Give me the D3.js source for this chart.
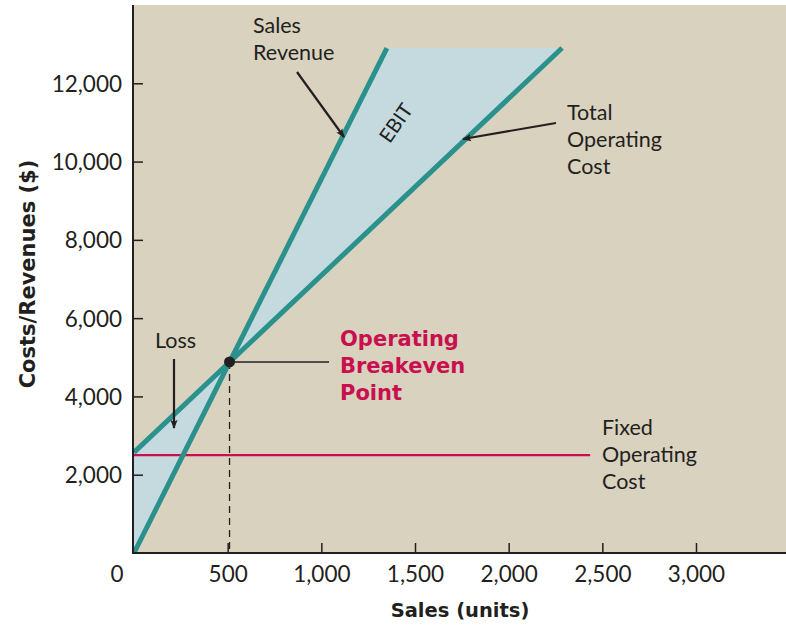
<!DOCTYPE html>
<html>
<head>
<meta charset="utf-8">
<script src="https://cdn.jsdelivr.net/npm/d3@7"></script>
<style>
  html, body { margin: 0; padding: 0; background: #ffffff; }
  svg { display: block; }
  text { font-family: Lato, "Noto Sans", sans-serif; fill: #231f20; }
  .heavy { font-family: "DejaVu Sans", Lato, sans-serif; font-weight: 700; }
</style>
</head>
<body>
<svg id="chart" width="786" height="626"></svg>
<script>
// ---- data ----
const xTicks = [500, 1000, 1500, 2000, 2500, 3000];
const yTicks = [2000, 4000, 6000, 8000, 10000, 12000];
const salesRevenue = [[0, 0], [1350, 12900]];
const totalOperatingCost = [[0, 2570], [2285, 12900]];
const fixedOperatingCost = [[0, 2500], [2435, 2500]];
const breakeven = [510, 4880];
const ebitRegion = [breakeven, [1350, 12900], [2285, 12900]];
const lossRegion = [[0, 2570], [0, 0], breakeven];

(function () {
const svg = d3.select("#chart");
const pL = 133, pR = 786, pT = 5, pB = 553;

const x = d3.scaleLinear().domain([0, 3000]).range([134, 696]);
const y = d3.scaleLinear().domain([0, 14000]).range([pB, pT]);
const fmt = d3.format(",");

const teal = "#2b918c";
const fillBlue = "#c4dadf";
const crimson = "#c8104e";
const ink = "#231f20";

// background
svg.append("rect").attr("x", pL).attr("y", pT)
  .attr("width", pR - pL).attr("height", pB - pT)
  .attr("fill", "#d8d2bf");

const line = d3.line().x(d => x(d[0])).y(d => y(d[1]));
const area = d3.line().x(d => x(d[0])).y(d => y(d[1])).curve(d3.curveLinearClosed);

// regions
svg.append("path").attr("d", area(ebitRegion)).attr("fill", fillBlue);
svg.append("path").attr("d", area(lossRegion)).attr("fill", fillBlue);
svg.append("rect").attr("x", pL).attr("y", y(2570)).attr("width", x(0) - pL + 0.5)
  .attr("height", y(0) - y(2570)).attr("fill", fillBlue);

// fixed cost
svg.append("path").attr("d", line(fixedOperatingCost))
  .attr("stroke", crimson).attr("stroke-width", 2.2).attr("fill", "none");

// dashed vertical from breakeven
svg.append("line")
  .attr("x1", x(breakeven[0])).attr("x2", x(breakeven[0]))
  .attr("y1", y(breakeven[1])).attr("y2", y(0))
  .attr("stroke", ink).attr("stroke-width", 1.3).attr("stroke-dasharray", "7,5");

// main lines
svg.append("path").attr("d", line(totalOperatingCost))
  .attr("stroke", teal).attr("stroke-width", 5).attr("fill", "none");
svg.append("path").attr("d", line(salesRevenue))
  .attr("stroke", teal).attr("stroke-width", 5).attr("fill", "none");

// leader from breakeven point
svg.append("line")
  .attr("x1", x(breakeven[0])).attr("x2", 329)
  .attr("y1", y(breakeven[1])).attr("y2", y(breakeven[1]))
  .attr("stroke", ink).attr("stroke-width", 1.4);
svg.append("circle").attr("cx", x(breakeven[0])).attr("cy", y(breakeven[1]))
  .attr("r", 5.5).attr("fill", ink);

// axes
const yAxis = d3.axisLeft(y).tickValues(yTicks).tickFormat(fmt)
  .tickSizeInner(-10).tickSizeOuter(0).tickPadding(11);
const gy = svg.append("g").attr("transform", `translate(${pL},0)`).call(yAxis);
const xAxis = d3.axisBottom(x).tickValues(xTicks).tickFormat(fmt)
  .tickSizeInner(-10).tickSizeOuter(0).tickPadding(13);
const gx = svg.append("g").attr("transform", `translate(0,${pB})`).call(xAxis);
[gx, gy].forEach(g => {
  g.select(".domain").remove();
  g.selectAll(".tick line").attr("stroke", ink).attr("stroke-width", 1.5);
  g.selectAll(".tick text").attr("fill", ink)
    .style("font-size", "22.5px").style("font-family", "Lato, sans-serif");
});
gy.selectAll(".tick text").attr("dy", "0.36em");
svg.append("text").attr("x", x(0) - 17).attr("y", pB + 13).attr("dy", "0.71em")
  .attr("text-anchor", "middle").style("font-size", "22.5px").text("0");

svg.append("line").attr("x1", pL).attr("x2", pL).attr("y1", pT).attr("y2", pB + 1)
  .attr("stroke", ink).attr("stroke-width", 2);
svg.append("line").attr("x1", pL - 1).attr("x2", pR).attr("y1", pB).attr("y2", pB)
  .attr("stroke", ink).attr("stroke-width", 2);

// axis titles
svg.append("text").attr("class", "heavy").attr("x", 460).attr("y", 617).attr("text-anchor", "middle")
  .style("font-size", "19.5px").text("Sales (units)");
svg.append("text").attr("class", "heavy").attr("transform", "translate(35,274) rotate(-90)")
  .attr("text-anchor", "middle").style("font-size", "21px")
  .text("Costs/Revenues ($)");

// annotations
function multi(xp, ys, lines, opts = {}) {
  const t = svg.append("text").attr("x", xp)
    .attr("class", opts.cls || null)
    .style("font-size", (opts.size || 21.5) + "px")
    .attr("fill", opts.color || ink);
  lines.forEach((s, i) => t.append("tspan").attr("x", xp).attr("y", ys + i * 27)
    .attr("fill", opts.color || ink).text(s));
}
multi(253, 33, ["Sales", "Revenue"]);
multi(567, 120, ["Total", "Operating", "Cost"]);
multi(602, 435, ["Fixed", "Operating", "Cost"]);
multi(155, 348, ["Loss"]);
multi(340, 346, ["Operating", "Breakeven", "Point"], { cls: "heavy", color: crimson, size: 21 });

svg.append("text").attr("transform", "translate(396,123) rotate(-55)")
  .attr("text-anchor", "middle").attr("dy", "0.35em").style("font-size", "20px").text("EBIT");

// arrows
const defs = svg.append("defs");
defs.append("marker").attr("id", "ah").attr("viewBox", "0 0 10 10")
  .attr("refX", 9).attr("refY", 5).attr("markerWidth", 9).attr("markerHeight", 9)
  .attr("markerUnits", "userSpaceOnUse").attr("orient", "auto")
  .append("path").attr("d", "M0,1 L10,5 L0,9 L2,5 Z").attr("fill", ink);
function arrow(x1, y1, x2, y2) {
  svg.append("line").attr("x1", x1).attr("y1", y1).attr("x2", x2).attr("y2", y2)
    .attr("stroke", ink).attr("stroke-width", 2.2).attr("marker-end", "url(#ah)");
}
arrow(297, 72, 344, 137);
arrow(556, 123, 463, 139);
arrow(174, 359, 174, 428);
})();
</script>
</body>
</html>
